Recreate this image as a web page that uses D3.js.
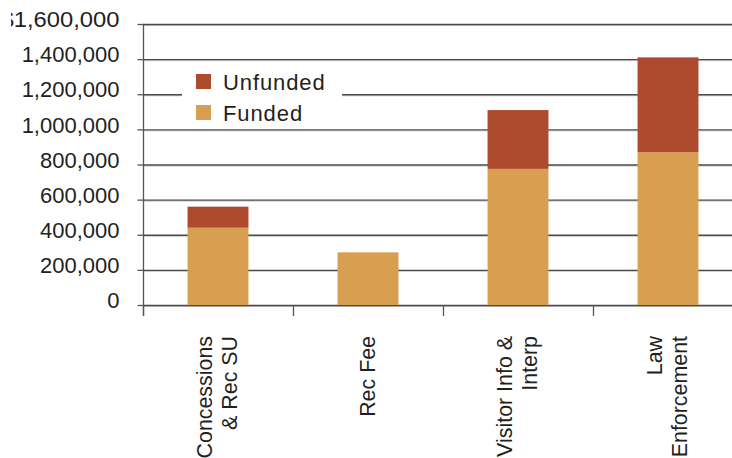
<!DOCTYPE html>
<html>
<head>
<meta charset="utf-8">
<script src="https://cdn.jsdelivr.net/npm/d3@7"></script>
<style>
  html, body { margin: 0; padding: 0; background: #fff; }
  svg { display: block; font-family: "Liberation Sans", Arial, Helvetica, sans-serif; }
</style>
</head>
<body>
<svg id="chart" width="732" height="458"></svg>
<script>
// Program costs by category, split into funded and unfunded portions
const categories = [
  ["Concessions", "& Rec SU"],
  ["Rec Fee"],
  ["Visitor Info &", "Interp"],
  ["Law", "Enforcement"]
];
const funded   = [440000, 300000, 775000, 870000];
const unfunded = [120000, 0, 335000, 540000];
const yTicks   = [0, 200000, 400000, 600000, 800000, 1000000, 1200000, 1400000, 1600000];
const seriesNames  = ["Unfunded", "Funded"];
const seriesColors = { Funded: "#d99f50", Unfunded: "#ae4b2e" };

const svg = d3.select("#chart");
const W = 732, H = 458;
const plotLeft = 143, plotTop = 24, plotBottom = 305, plotRight = 743;

const keys = categories.map(c => c.join(" "));
const rows = keys.map((k, i) => ({ key: k, Funded: funded[i], Unfunded: unfunded[i] }));
const stacked = d3.stack().keys(["Funded", "Unfunded"])(rows);

const x = d3.scaleBand().domain(keys).range([plotLeft, plotRight]).paddingInner(0.594).paddingOuter(0.297);
const y = d3.scaleLinear().domain([0, 1600000]).range([plotBottom, plotTop]);
const fmt = d3.format(",");

// the page trims a sliver off the left margin
svg.append("defs").append("clipPath").attr("id", "page")
  .append("rect").attr("x", 11).attr("y", 0).attr("width", W).attr("height", H);
const root = svg.append("g").attr("clip-path", "url(#page)");

// horizontal gridlines (dark line with a soft shadow beneath)
const grid = root.append("g");
grid.selectAll("line.shadow").data(yTicks).join("line")
  .attr("class", "shadow")
  .attr("x1", plotLeft).attr("x2", W)
  .attr("y1", d => y(d) + 1.5).attr("y2", d => y(d) + 1.5)
  .attr("stroke", "#c8c8c8").attr("stroke-width", 1);
grid.selectAll("line.main").data(yTicks).join("line")
  .attr("class", "main")
  .attr("x1", plotLeft).attr("x2", W)
  .attr("y1", d => y(d) + 0.5).attr("y2", d => y(d) + 0.5)
  .attr("stroke", "#4a4a4a").attr("stroke-width", 1.3);

// y axis with ticks pointing left
const yAxis = root.append("g").attr("transform", `translate(${plotLeft + 0.5},0)`)
  .call(d3.axisLeft(y).tickValues(yTicks).tickSize(6).tickPadding(18)
    .tickFormat(d => d === 1600000 ? "$" + fmt(d) : fmt(d)));
yAxis.select(".domain").attr("d", `M0,${plotTop}V${plotBottom + 11}`).attr("stroke", "#555").attr("stroke-width", 1.3);
yAxis.selectAll(".tick line").attr("stroke", "#555").attr("stroke-width", 1.3);
yAxis.selectAll(".tick text")
  .attr("font-size", 22).attr("fill", "#231f20")
  .attr("dy", "0.12em")
  .attr("font-family", "Liberation Sans, Arial, sans-serif")
  .filter(d => d === 1600000)
  .attr("textLength", 119).attr("lengthAdjust", "spacingAndGlyphs");

// stacked bars
root.append("g").selectAll("g").data(stacked).join("g")
  .attr("fill", s => seriesColors[s.key])
  .selectAll("rect").data(s => s).join("rect")
  .attr("x", d => x(d.data.key))
  .attr("width", x.bandwidth())
  .attr("y", d => y(d[1]))
  .attr("height", d => y(d[0]) - y(d[1]));

// category separators below the baseline
root.append("g").selectAll("line").data(keys).join("line")
  .attr("x1", k => x(k) + x.bandwidth() / 2 - x.step() / 2 + 0.5)
  .attr("x2", k => x(k) + x.bandwidth() / 2 - x.step() / 2 + 0.5)
  .attr("y1", plotBottom).attr("y2", plotBottom + 11)
  .attr("stroke", "#555").attr("stroke-width", 1.3);

// rotated category labels
const lab = root.append("g").selectAll("text").data(categories).join("text")
  .attr("transform", (c, i) => `translate(${x(keys[i]) + x.bandwidth() / 2},336) rotate(-90)`)
  .attr("text-anchor", "end")
  .attr("font-size", 21.4).attr("fill", "#231f20");
lab.selectAll("tspan").data(c => c.map((t, j) => ({ t, j, n: c.length }))).join("tspan")
  .attr("x", 0)
  .attr("y", d => (d.j - (d.n - 1) / 2) * 24.5 + 6.5)
  .text(d => d.t);

// legend on a white panel over the gridlines
const lg = root.append("g");
lg.append("rect").attr("x", 182).attr("y", 66).attr("width", 160).attr("height", 60).attr("fill", "#fff");
const items = lg.selectAll("g").data(seriesNames).join("g")
  .attr("transform", (d, i) => `translate(196,${74 + i * 31})`);
items.append("rect").attr("width", 15).attr("height", 15).attr("fill", d => seriesColors[d]);
items.append("text").attr("x", 27).attr("y", 15.5)
  .attr("font-size", 22).attr("letter-spacing", 0.9)
  .attr("fill", "#231f20").text(d => d);
</script>
</body>
</html>
